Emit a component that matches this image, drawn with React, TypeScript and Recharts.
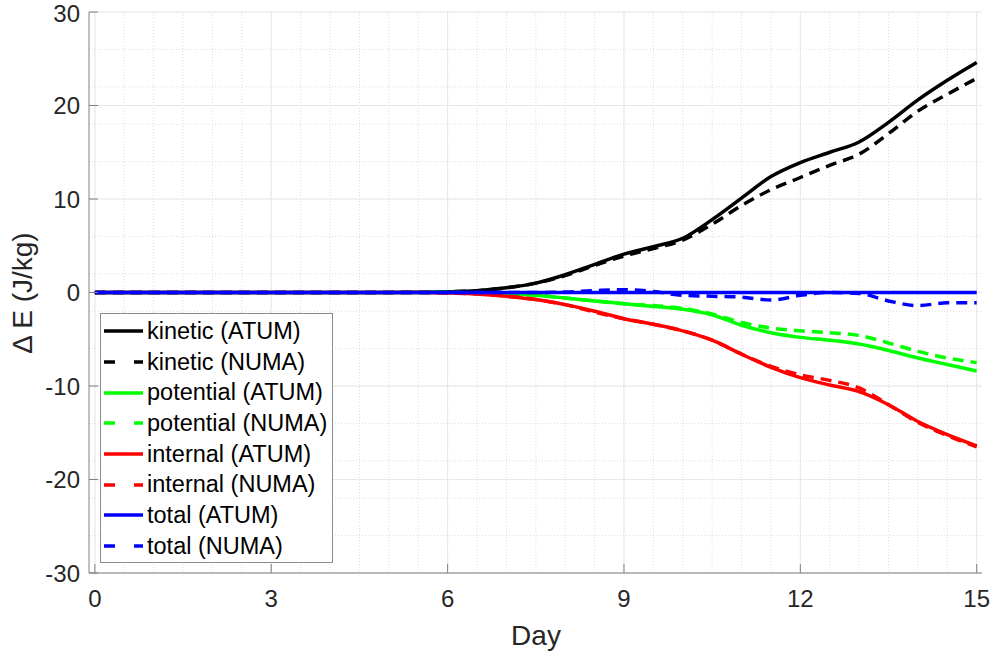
import { LineChart, Line, XAxis, YAxis, CartesianGrid, Legend } from 'recharts';

const days = [0, 0.5, 1, 1.5, 2, 2.5, 3, 3.5, 4, 4.5, 5, 5.5, 6, 6.5, 7, 7.5, 8, 8.5, 9, 9.5, 10, 10.5, 11, 11.5, 12, 12.5, 13, 13.5, 14, 14.5, 15];

const kineticAtum = [0, 0, 0, 0, 0, 0, 0, 0, 0, 0, 0.01, 0.03, 0.08, 0.2, 0.5, 1.0, 1.9, 3.0, 4.1, 4.9, 5.8, 7.8, 10.1, 12.4, 13.9, 15.0, 16.1, 18.2, 20.6, 22.7, 24.6];
const kineticNuma = [0, 0, 0, 0, 0, 0, 0, 0, 0, 0, 0.01, 0.03, 0.08, 0.2, 0.5, 1.0, 1.8, 2.9, 3.9, 4.7, 5.6, 7.3, 9.3, 11.0, 12.3, 13.6, 14.8, 17.0, 19.4, 21.2, 22.9];
const potentialAtum = [0, 0, 0, 0, 0, 0, 0, 0, 0, 0, 0, 0, 0, -0.05, -0.15, -0.3, -0.6, -0.9, -1.2, -1.5, -1.8, -2.4, -3.5, -4.3, -4.8, -5.1, -5.5, -6.2, -7.0, -7.7, -8.4];
const potentialNuma = [0, 0, 0, 0, 0, 0, 0, 0, 0, 0, 0, 0, 0, -0.05, -0.15, -0.3, -0.6, -0.9, -1.2, -1.4, -1.7, -2.3, -3.2, -3.8, -4.1, -4.3, -4.6, -5.4, -6.3, -7.0, -7.5];
const internalAtum = [0, 0, 0, 0, 0, 0, 0, 0, 0, 0, 0, 0, -0.05, -0.15, -0.4, -0.75, -1.3, -2.0, -2.8, -3.4, -4.1, -5.1, -6.6, -8.0, -9.1, -9.9, -10.6, -12.0, -13.8, -15.2, -16.4];
const internalNuma = [0, 0, 0, 0, 0, 0, 0, 0, 0, 0, 0, 0, -0.05, -0.15, -0.4, -0.75, -1.3, -2.1, -2.8, -3.4, -4.1, -5.1, -6.6, -7.9, -8.8, -9.4, -10.2, -12.0, -13.9, -15.3, -16.5];
const totalAtum = [0, 0, 0, 0, 0, 0, 0, 0, 0, 0, 0, 0, 0, 0, 0, 0, 0, 0, 0, 0, 0, 0, 0, 0, 0, 0, 0, 0, 0, 0, 0];
const totalNuma = [0, 0, 0, 0, 0, 0, 0, 0, 0, 0, 0, 0, 0, 0, 0, 0, 0.05, 0.2, 0.3, 0.1, -0.3, -0.4, -0.5, -0.8, -0.3, 0.0, -0.1, -0.9, -1.4, -1.1, -1.1];

const xTicks = [0, 3, 6, 9, 12, 15];
const yTicks = [-30, -20, -10, 0, 10, 20, 30];
const xMinor = Array.from({ length: 31 }, (_, i) => i * 0.5);
const yMinor = Array.from({ length: 31 }, (_, i) => -30 + i * 2);

const series = [
  { key: 'kineticAtum', name: 'kinetic (ATUM)', color: '#000000', dashed: false },
  { key: 'kineticNuma', name: 'kinetic (NUMA)', color: '#000000', dashed: true },
  { key: 'potentialAtum', name: 'potential (ATUM)', color: '#00ff00', dashed: false },
  { key: 'potentialNuma', name: 'potential (NUMA)', color: '#00ff00', dashed: true },
  { key: 'internalAtum', name: 'internal (ATUM)', color: '#ff0000', dashed: false },
  { key: 'internalNuma', name: 'internal (NUMA)', color: '#ff0000', dashed: true },
  { key: 'totalAtum', name: 'total (ATUM)', color: '#0000ff', dashed: false },
  { key: 'totalNuma', name: 'total (NUMA)', color: '#0000ff', dashed: true },
];

const data = days.map((day, i) => ({
  day,
  kineticAtum: kineticAtum[i],
  kineticNuma: kineticNuma[i],
  potentialAtum: potentialAtum[i],
  potentialNuma: potentialNuma[i],
  internalAtum: internalAtum[i],
  internalNuma: internalNuma[i],
  totalAtum: totalAtum[i],
  totalNuma: totalNuma[i],
}));

const font = '"Liberation Sans", Arial, sans-serif';
const axisColor = '#808080';
const tickStyle = { fontSize: 24, fill: '#262626', fontFamily: font };

const LegendBox = () => (
  <div style={{
    width: 231, height: 246, border: '1px solid #8c8c8c', background: '#fff',
    fontFamily: font, fontSize: 23.5, color: '#000', boxSizing: 'content-box',
    paddingTop: 2,
  }}>
    {series.map(s => (
      <div key={s.key} style={{ display: 'flex', alignItems: 'center', height: 30.7, whiteSpace: 'nowrap' }}>
        <svg width={46} height={10} style={{ flex: 'none' }}>
          <line x1={3} y1={5} x2={42} y2={5} stroke={s.color} strokeWidth={3.5}
            strokeDasharray={s.dashed ? '11 19 9' : undefined} />
        </svg>
        <span>{s.name}</span>
      </div>
    ))}
  </div>
);

export default function App() {
  return (
    <div style={{ position: 'absolute', left: 0, top: 0, background: '#fff' }}>
      <LineChart width={995} height={656} data={data} margin={{ top: 12, right: 13, left: 0, bottom: 0 }}>
        <CartesianGrid stroke="#dcdcdc" strokeDasharray="1 2" verticalValues={xMinor} horizontalValues={yMinor} />
        <CartesianGrid stroke="#e8e8e8" verticalValues={xTicks} horizontalValues={yTicks} />
        <XAxis
          dataKey="day" type="number" domain={[-0.1, 15.09]} ticks={xTicks} allowDataOverflow
          height={83} stroke={axisColor} tickSize={-9} tickMargin={26} tick={tickStyle}
          tickLine={{ stroke: axisColor }}
          label={{ content: () => (
            <text x={536} y={645} textAnchor="middle" fontSize={28} fill="#262626" fontFamily={font}>Day</text>
          ) }}
        />
        <XAxis xAxisId="top" orientation="top" dataKey="day" type="number" domain={[-0.1, 15.09]} ticks={xTicks}
          allowDataOverflow height={0} stroke={axisColor} tickSize={-9} tick={() => <g />} />
        <YAxis
          type="number" domain={[-30, 30]} ticks={yTicks} width={89} stroke={axisColor}
          tickSize={-9} tickMargin={18} tick={tickStyle} tickLine={{ stroke: axisColor }}
          label={{ content: () => (
            <text x={22} y={293} transform="rotate(-90 22 293)" textAnchor="middle" dominantBaseline="central"
              fontSize={28} fill="#262626" fontFamily={font}>Δ E (J/kg)</text>
          ) }}
        />
        <YAxis yAxisId="right" orientation="right" type="number" domain={[-30, 30]} ticks={yTicks}
          width={0} stroke={axisColor} tickSize={-9} tick={() => <g />} />
        {series.map(s => (
          <Line
            key={s.key} dataKey={s.key} name={s.name} type="monotone" stroke={s.color} strokeWidth={3.5}
            strokeDasharray={s.dashed ? '11 7' : undefined} dot={false} activeDot={false}
            isAnimationActive={false}
          />
        ))}
        <Legend layout="vertical" align="center" verticalAlign="middle" content={() => <LegendBox />}
          wrapperStyle={{ left: 100, top: 313, width: 'auto' }} />
      </LineChart>
    </div>
  );
}
